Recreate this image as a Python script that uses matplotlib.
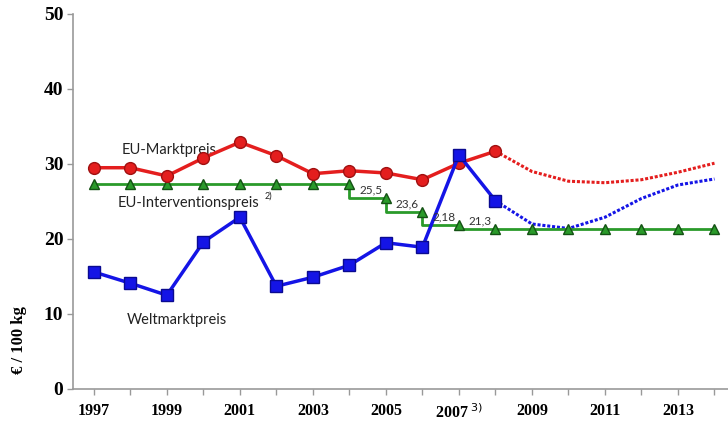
import matplotlib.pyplot as plt

years = list(range(1997, 2015))
tick_years = list(range(1997, 2015, 2))
tick_labels = ['1997', '1999', '2001', '2003', '2005', '2007$^{\\ 3)}$', '2009', '2011', '2013']

# EU market price: observed and outlook
markt_years = list(range(1997, 2009))
markt = [29.5, 29.5, 28.4, 30.8, 32.9, 31.1, 28.7, 29.1, 28.8, 27.9, 30.1, 31.7]
markt_fc_years = list(range(2008, 2015))
markt_fc = [31.7, 29.0, 27.7, 27.5, 27.9, 28.9, 30.1]

# world market price
welt_years = list(range(1997, 2009))
welt = [15.6, 14.1, 12.5, 19.6, 22.9, 13.7, 14.9, 16.5, 19.5, 18.9, 31.2, 25.1]
welt_fc_years = list(range(2008, 2015))
welt_fc = [25.1, 22.0, 21.4, 22.9, 25.4, 27.2, 28.0]

# intervention price
interv = [27.3] * 8 + [25.5, 23.6, 21.8] + [21.3] * 7
step_labels = ['25,5', '23,6', '2,18', '21,3']
step_years = [2005, 2006, 2007, 2008]
step_vals = [25.5, 23.6, 21.8, 21.3]

red = '#e41e1e'
blue = '#1414e6'
green = '#2a9a2a'

fig = plt.figure(figsize=(7.28, 4.23), dpi=100)
ax = fig.add_axes([0.1003, 0.0804, 0.8997, 0.8866])

ax.plot(markt_fc_years, markt_fc, color=red, lw=2.2, ls=(0, (1, 0.6)), zorder=2)
ax.plot(welt_fc_years, welt_fc, color=blue, lw=2.2, ls=(0, (1, 0.6)), zorder=2)
ax.plot(years, interv, color=green, lw=2, drawstyle='steps-pre', marker='^',
        markersize=7, markerfacecolor=green, markeredgecolor='#145214', zorder=3)
ax.plot(markt_years, markt, color=red, lw=2.5, marker='o', markersize=8.5,
        markerfacecolor=red, markeredgecolor='#a01010', zorder=4)
ax.plot(welt_years, welt, color=blue, lw=2.5, marker='s', markersize=8,
        markerfacecolor=blue, markeredgecolor='#0a0a90', zorder=4)

for lab, yr, v in zip(step_labels, step_years, step_vals):
    ax.text(yr - 0.42, v + 0.35, lab, fontsize=8.5, color='#333333',
            ha='center', va='bottom', family='Lato', zorder=5)

ax.text(1997.75, 31.3, 'EU-Marktpreis', fontsize=10.5, family='Lato', color='#222222')
ax.text(1997.65, 24.3, 'EU-Interventionspreis', fontsize=10.5, family='Lato', color='#222222')
ax.text(2001.68, 25.4, '2)', fontsize=6.5, family='Lato', color='#222222')
ax.text(1997.9, 8.7, 'Weltmarktpreis', fontsize=10.5, family='Lato', color='#222222')

ax.set_xlim(1996.43, 2014.37)
ax.set_ylim(0, 50)
ax.set_xticks(years, minor=True)
ax.set_xticks(tick_years)
ax.set_xticklabels(tick_labels)
ax.set_yticks([0, 10, 20, 30, 40, 50])
for lab in ax.get_xticklabels() + ax.get_yticklabels():
    lab.set_family('Liberation Serif')
    lab.set_fontweight('bold')
for lab in ax.get_xticklabels():
    lab.set_fontsize(11.5)
for lab in ax.get_yticklabels():
    lab.set_fontsize(14)

ax.tick_params(axis='both', which='both', direction='out', color='#999999', width=1)
ax.tick_params(axis='x', which='major', length=4, pad=6)
ax.tick_params(axis='x', which='minor', length=4)
ax.tick_params(axis='y', length=4, pad=3)

for s in ['top', 'right']:
    ax.spines[s].set_visible(False)
for s in ['left', 'bottom']:
    ax.spines[s].set_color('#999999')
    ax.spines[s].set_linewidth(1.2)

ax.set_ylabel('€ / 100 kg', family='Liberation Serif', fontweight='bold', fontsize=12)
ax.yaxis.set_label_coords(-0.07, 0.13)

fig.savefig('out.png', dpi=100)
